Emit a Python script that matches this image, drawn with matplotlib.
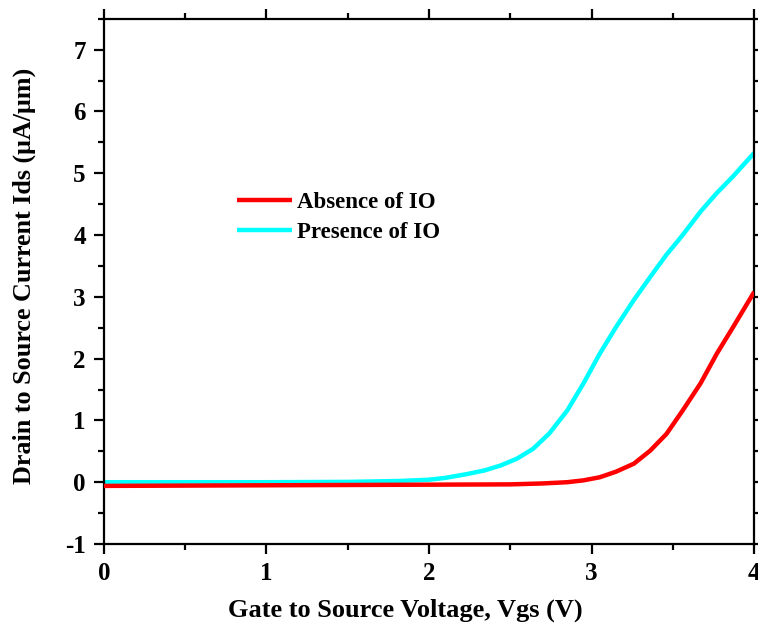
import matplotlib
matplotlib.use("Agg")
import matplotlib.pyplot as plt
from matplotlib.ticker import MultipleLocator

vgs_absence = [0.0, 0.5, 1.0, 1.5, 2.0, 2.5, 2.7, 2.85, 2.95, 3.05, 3.15, 3.26, 3.36, 3.46, 3.56, 3.67, 3.77, 3.87, 4.0]
ids_absence = [-0.06, -0.055, -0.05, -0.045, -0.04, -0.035, -0.02, 0.0, 0.03, 0.08, 0.17, 0.30, 0.51, 0.78, 1.16, 1.60, 2.08, 2.51, 3.08]

vgs_presence = [0.0, 0.5, 1.0, 1.5, 1.82, 2.0, 2.1, 2.23, 2.34, 2.44, 2.54, 2.64, 2.74, 2.85, 2.95, 3.05, 3.15, 3.26,
                3.36, 3.46, 3.56, 3.67, 3.77, 3.87, 4.0]
ids_presence = [0.0, 0.0, 0.0, 0.005, 0.02, 0.04, 0.07, 0.13, 0.19, 0.27, 0.38, 0.54, 0.79, 1.16, 1.60, 2.08, 2.51, 2.95,
                3.32, 3.68, 4.00, 4.38, 4.68, 4.95, 5.33]

labels = ["Absence of IO", "Presence of IO"]

plt.rcParams['font.family'] = ['Liberation Serif', 'DejaVu Serif']
plt.rcParams['font.weight'] = 'bold'
plt.rcParams['axes.unicode_minus'] = False

fig = plt.figure(figsize=(7.58, 6.26), dpi=100)
ax = fig.add_axes([0.137, 0.131, 0.858, 0.839])

ax.plot(vgs_absence, ids_absence, color='#ff0000', lw=3.2, label=labels[0], zorder=3,
        solid_capstyle='butt')
ax.plot(vgs_presence, ids_presence, color='#00ffff', lw=3.2, label=labels[1], zorder=2,
        solid_capstyle='butt')

ax.set_xlim(0, 4)
ax.set_ylim(-1, 7.5)
ax.xaxis.set_major_locator(MultipleLocator(1))
ax.xaxis.set_minor_locator(MultipleLocator(0.5))
ax.yaxis.set_major_locator(MultipleLocator(1))
ax.yaxis.set_minor_locator(MultipleLocator(0.5))

for s in ax.spines.values():
    s.set_linewidth(1.6)
ax.tick_params(which='both', direction='out', top=True, right=True, width=1.6)
ax.tick_params(which='major', length=7, labelsize=18, pad=6)
ax.tick_params(which='minor', length=4)
ax.tick_params(labeltop=False, labelright=False)
for t in ax.get_xticklabels() + ax.get_yticklabels():
    t.set_fontweight('bold')

ax.set_xlabel("Gate to Source Voltage, Vgs (V)", fontsize=19, fontweight='bold')
ax.set_ylabel("Drain to Source Current Ids (\u03bcA/\u03bcm)", fontsize=18.8, fontweight='bold')
ax.xaxis.set_label_coords(0.463, -0.103)
ax.yaxis.set_label_coords(-0.105, 0.51)

leg = ax.legend(loc='upper left', bbox_to_anchor=(0.205, 0.671), frameon=False,
                prop={'size': 16.5, 'weight': 'bold'}, handlelength=2.4, handletextpad=0.2,
                labelspacing=0.4, borderpad=0, borderaxespad=0)

fig.savefig("out.png", dpi=100)
